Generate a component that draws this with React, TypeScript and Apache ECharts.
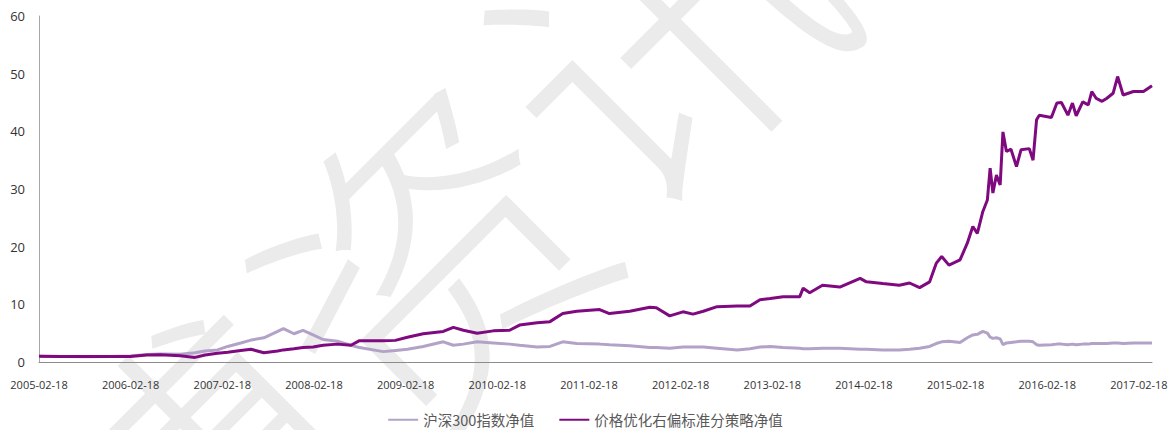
import { useEffect, useRef } from 'react';
import * as echarts from 'echarts';

const START = '2005-02-18';
const END = '2017-04-11';

const dates = [
  '2005-02-18', '2005-05-14', '2005-08-22', '2005-11-30', '2006-02-17', '2006-04-24', '2006-06-16',
  '2006-09-03', '2006-11-02', '2006-12-12', '2007-01-30', '2007-03-12', '2007-05-03', '2007-06-13',
  '2007-08-03', '2007-09-27', '2007-10-20', '2007-12-01', '2008-01-06', '2008-02-15', '2008-03-26',
  '2008-05-22', '2008-07-15', '2008-08-18', '2008-11-21', '2009-01-08', '2009-02-25', '2009-04-29',
  '2009-07-18', '2009-08-27', '2009-10-06', '2009-11-30', '2010-02-02', '2010-04-08', '2010-05-18',
  '2010-07-27', '2010-09-16', '2010-11-06', '2011-01-01', '2011-04-02', '2011-05-11', '2011-07-31',
  '2011-10-19', '2011-11-14', '2012-01-06', '2012-02-28', '2012-04-08', '2012-05-19', '2012-07-13',
  '2012-10-01', '2012-11-21', '2012-12-31', '2013-02-10', '2013-04-02', '2013-06-07', '2013-06-21',
  '2013-07-17', '2013-09-06', '2013-11-14', '2014-02-03', '2014-02-28', '2014-05-04', '2014-07-09',
  '2014-08-19', '2014-09-28', '2014-11-07', '2014-12-03', '2014-12-25', '2015-01-23', '2015-03-08',
  '2015-04-06', '2015-04-28', '2015-05-16', '2015-06-07', '2015-06-25', '2015-07-06', '2015-07-17',
  '2015-07-31', '2015-08-15', '2015-08-26', '2015-09-09', '2015-09-27', '2015-10-19', '2015-11-06',
  '2015-12-09', '2015-12-24', '2016-01-07', '2016-01-18', '2016-03-06', '2016-03-28', '2016-04-15',
  '2016-05-11', '2016-05-29', '2016-06-13', '2016-07-09', '2016-07-31', '2016-08-14', '2016-09-01',
  '2016-09-24', '2016-10-12', '2016-11-07', '2016-11-25', '2016-12-17', '2017-01-27', '2017-03-08',
  '2017-04-11',
];

const hs300 = [
  1.0, 0.95, 0.9, 0.95, 1.05, 1.3, 1.4,
  1.35, 1.6, 1.9, 2.1, 2.7, 3.3, 3.8,
  4.2, 5.3, 5.8, 4.9, 5.5, 4.7, 3.9,
  3.6, 2.9, 2.5, 1.8, 2.0, 2.2, 2.7,
  3.5, 2.9, 3.1, 3.5, 3.3, 3.1, 2.9,
  2.6, 2.7, 3.5, 3.2, 3.1, 3.0, 2.8,
  2.5, 2.5, 2.4, 2.6, 2.6, 2.6, 2.4,
  2.1, 2.3, 2.6, 2.7, 2.5, 2.4, 2.3,
  2.3, 2.4, 2.4, 2.2, 2.2, 2.1, 2.1,
  2.2, 2.4, 2.7, 3.2, 3.5, 3.6, 3.4,
  4.2, 4.7, 4.8, 5.3, 5.0, 4.3, 4.1,
  4.2, 4.0, 3.0, 3.3, 3.4, 3.5, 3.6,
  3.6, 3.5, 3.0, 2.9, 3.0, 3.1, 3.1,
  3.0, 3.1, 3.0, 3.1, 3.1, 3.2, 3.2,
  3.2, 3.2, 3.3, 3.3, 3.2, 3.3, 3.3,
  3.3,
];

const strategy = [
  1.0, 0.95, 0.95, 0.95, 0.95, 1.2, 1.25,
  1.1, 0.8, 1.2, 1.5, 1.7, 2.0, 2.2,
  1.6, 1.9, 2.1, 2.3, 2.5, 2.6, 2.9,
  3.1, 2.9, 3.7, 3.7, 3.75, 4.3, 4.9,
  5.3, 6.0, 5.5, 5.0, 5.4, 5.5, 6.4,
  6.8, 7.0, 8.4, 8.8, 9.1, 8.4, 8.8,
  9.5, 9.4, 8.0, 8.7, 8.3, 8.8, 9.6,
  9.7, 9.7, 10.8, 11.0, 11.3, 11.3, 12.8,
  12.0, 13.3, 13.0, 14.5, 13.9, 13.6, 13.3,
  13.7, 12.9, 13.9, 17.1, 18.3, 16.8, 17.7,
  20.6, 23.5, 22.3, 26.1, 28.1, 33.6, 29.3,
  32.4, 30.7, 39.9, 36.5, 36.9, 33.9, 36.8,
  37.0, 35.0, 42.0, 42.8, 42.4, 44.9, 45.0,
  42.8, 44.9, 42.7, 45.1, 44.6, 46.9, 45.7,
  45.2, 45.7, 46.6, 49.5, 46.3, 46.9, 46.9,
  47.9,
];

const seriesNames = ['沪深300指数净值', '价格优化右偏标准分策略净值'];
const seriesColors = ['#B3A2C7', '#7F0A7F'];
const yMin = 0;
const yMax = 60;
const yInterval = 10;
const watermark = '慧博资讯';

const DAY = 86400000;
const toUTC = (s: string) => {
  const [y, m, d] = s.split('-').map(Number);
  return Date.UTC(y, m - 1, d);
};
const startYear = Number(START.slice(0, 4));
const startMD = START.slice(4);
const toYears = (s: string) => (toUTC(s) - toUTC(START)) / (365.25 * DAY);

export default function App() {
  const ref = useRef<HTMLDivElement>(null);
  useEffect(() => {
    if (!ref.current) return;
    const chart = echarts.init(ref.current, null, { renderer: 'svg' });
    const xs = dates.map(toYears);
    const xMax = toYears(END);
    chart.setOption({
      animation: false,
      backgroundColor: '#ffffff',
      textStyle: { fontFamily: '"Open Sans", "Noto Sans CJK SC", sans-serif' },
      graphic: [
        {
          type: 'text',
          x: 300,
          y: 370,
          rotation: Math.PI / 4,
          z: -10,
          silent: true,
          style: {
            text: watermark,
            fontSize: 330,
            fontWeight: 300,
            fontFamily: '"Noto Sans CJK SC", sans-serif',
            fill: '#EBEBEB',
            align: 'center',
            verticalAlign: 'middle',
          },
        },
      ],
      grid: { left: 39, right: 19, top: 16, bottom: 68, containLabel: false },
      legend: {
        data: seriesNames,
        bottom: 3,
        left: 'center',
        padding: 0,
        itemWidth: 30,
        itemHeight: 2,
        itemGap: 25,
        icon: 'rect',
        textStyle: { fontSize: 14.5, color: '#595959', fontFamily: '"Noto Sans CJK SC", sans-serif' },
      },
      xAxis: {
        type: 'value',
        min: 0,
        max: xMax,
        interval: 1,
        splitLine: { show: false },
        axisTick: { show: false },
        axisLine: { show: true, lineStyle: { color: '#8C8C8C', width: 1 } },
        axisLabel: {
          margin: 17,
          fontSize: 11,
          color: '#333333',
          showMaxLabel: false,
          formatter: (v: number) =>
            Math.abs(v - Math.round(v)) < 1e-6 ? `${startYear + Math.round(v)}${startMD}` : '',
        },
      },
      yAxis: {
        type: 'value',
        min: yMin,
        max: yMax,
        interval: yInterval,
        splitLine: { show: false },
        axisTick: { show: false },
        axisLine: { show: true, lineStyle: { color: '#A6A6A6', width: 1 } },
        axisLabel: { margin: 14, fontSize: 13, color: '#333333' },
      },
      series: [
        {
          name: seriesNames[0],
          type: 'line',
          data: xs.map((x, i) => [x, hs300[i]]),
          showSymbol: false,
          symbol: 'none',
          lineStyle: { color: seriesColors[0], width: 3 },
          itemStyle: { color: seriesColors[0] },
          z: 3,
        },
        {
          name: seriesNames[1],
          type: 'line',
          data: xs.map((x, i) => [x, strategy[i]]),
          showSymbol: false,
          symbol: 'none',
          lineStyle: { color: seriesColors[1], width: 3 },
          itemStyle: { color: seriesColors[1] },
          z: 4,
        },
      ],
    });
    return () => chart.dispose();
  }, []);
  return (
    <div
      ref={ref}
      style={{ position: 'fixed', left: 0, top: 0, width: 1171, height: 430 }}
    />
  );
}
